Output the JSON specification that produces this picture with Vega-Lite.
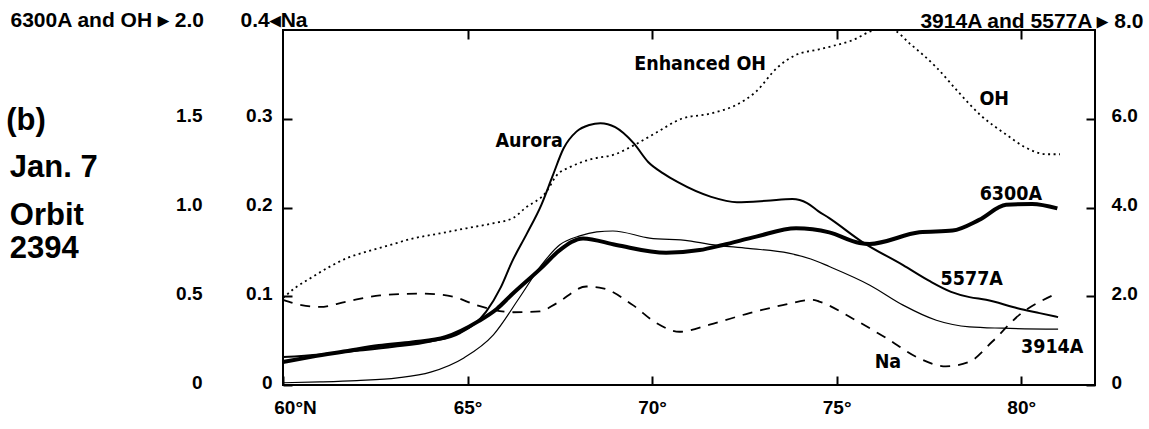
{
  "$schema": "https://vega.github.io/schema/vega-lite/v6.json",
  "width": 812,
  "height": 355,
  "autosize": {"type": "none"},
  "padding": {"left": 283, "top": 30, "right": 54, "bottom": 44},
  "background": "white",
  "config": {
    "view": {"stroke": "black", "strokeWidth": 2},
    "axis": {
      "grid": false,
      "domain": false,
      "labelColor": "black",
      "tickColor": "black",
      "titleColor": "black",
      "labelFont": "Liberation Sans",
      "labelFontWeight": "bold",
      "labelFontSize": 19,
      "titleFont": "Liberation Sans",
      "titleFontWeight": "bold",
      "titleFontSize": 20,
      "tickWidth": 2,
      "tickSize": -9
    }
  },
  "datasets": {
    "oh": [
      {"lat": 60.0, "v": 0.49}, {"lat": 60.35, "v": 0.55}, {"lat": 60.73, "v": 0.60}, {"lat": 61.27, "v": 0.667},
      {"lat": 61.72, "v": 0.714}, {"lat": 62.26, "v": 0.751}, {"lat": 62.9, "v": 0.789}, {"lat": 63.53, "v": 0.826},
      {"lat": 64.25, "v": 0.854}, {"lat": 64.97, "v": 0.883}, {"lat": 65.69, "v": 0.911}, {"lat": 66.23, "v": 0.94},
      {"lat": 66.55, "v": 0.995}, {"lat": 67.14, "v": 1.09}, {"lat": 67.41, "v": 1.18}, {"lat": 67.8, "v": 1.23},
      {"lat": 68.3, "v": 1.27}, {"lat": 69.0, "v": 1.30}, {"lat": 69.5, "v": 1.35}, {"lat": 70.1, "v": 1.42},
      {"lat": 70.8, "v": 1.50}, {"lat": 71.6, "v": 1.53}, {"lat": 72.3, "v": 1.58}, {"lat": 72.8, "v": 1.65},
      {"lat": 73.4, "v": 1.79}, {"lat": 73.9, "v": 1.86}, {"lat": 74.5, "v": 1.89}, {"lat": 75.4, "v": 1.94},
      {"lat": 76.1, "v": 2.0}, {"lat": 76.5, "v": 2.0}, {"lat": 77.0, "v": 1.92}, {"lat": 77.7, "v": 1.79},
      {"lat": 78.3, "v": 1.65}, {"lat": 78.9, "v": 1.52}, {"lat": 79.6, "v": 1.41}, {"lat": 80.1, "v": 1.34},
      {"lat": 80.7, "v": 1.30}, {"lat": 81.05, "v": 1.30}
    ],
    "p6300": [
      {"lat": 60.0, "v": 0.13}, {"lat": 60.8, "v": 0.16}, {"lat": 61.7, "v": 0.19}, {"lat": 62.6, "v": 0.22},
      {"lat": 63.5, "v": 0.24}, {"lat": 64.4, "v": 0.27}, {"lat": 65.3, "v": 0.36}, {"lat": 65.8, "v": 0.43},
      {"lat": 66.2, "v": 0.51}, {"lat": 67.0, "v": 0.66}, {"lat": 67.5, "v": 0.76}, {"lat": 68.13, "v": 0.826},
      {"lat": 69.03, "v": 0.789}, {"lat": 70.38, "v": 0.745}, {"lat": 71.29, "v": 0.76}, {"lat": 71.92, "v": 0.789},
      {"lat": 72.82, "v": 0.836}, {"lat": 73.9, "v": 0.883}, {"lat": 74.8, "v": 0.86}, {"lat": 75.62, "v": 0.80},
      {"lat": 75.89, "v": 0.795}, {"lat": 77.24, "v": 0.86}, {"lat": 78.14, "v": 0.87}, {"lat": 78.86, "v": 0.93},
      {"lat": 79.59, "v": 1.015}, {"lat": 80.3, "v": 1.02}, {"lat": 80.98, "v": 0.995}
    ],
    "p5577": [
      {"lat": 60.0, "v": 0.63}, {"lat": 61.0, "v": 0.69}, {"lat": 62.0, "v": 0.77}, {"lat": 63.0, "v": 0.86},
      {"lat": 64.0, "v": 0.98}, {"lat": 64.8, "v": 1.17}, {"lat": 65.5, "v": 1.65}, {"lat": 65.9, "v": 2.2},
      {"lat": 66.2, "v": 2.77}, {"lat": 66.6, "v": 3.4}, {"lat": 67.0, "v": 4.06}, {"lat": 67.3, "v": 4.7},
      {"lat": 67.6, "v": 5.33}, {"lat": 67.95, "v": 5.71}, {"lat": 68.3, "v": 5.86}, {"lat": 68.6, "v": 5.90},
      {"lat": 69.0, "v": 5.81}, {"lat": 69.5, "v": 5.45}, {"lat": 69.9, "v": 5.02}, {"lat": 70.3, "v": 4.77},
      {"lat": 70.7, "v": 4.57}, {"lat": 71.6, "v": 4.24}, {"lat": 72.3, "v": 4.12}, {"lat": 73.1, "v": 4.15},
      {"lat": 73.8, "v": 4.19}, {"lat": 74.2, "v": 4.1}, {"lat": 74.5, "v": 3.92}, {"lat": 74.8, "v": 3.76},
      {"lat": 75.7, "v": 3.22}, {"lat": 76.8, "v": 2.70}, {"lat": 77.5, "v": 2.35}, {"lat": 78.1, "v": 2.10},
      {"lat": 78.6, "v": 1.98}, {"lat": 79.05, "v": 1.92}, {"lat": 79.9, "v": 1.73}, {"lat": 80.5, "v": 1.62},
      {"lat": 81.0, "v": 1.53}
    ],
    "p3914": [
      {"lat": 60.0, "v": 0.05}, {"lat": 61.0, "v": 0.07}, {"lat": 62.0, "v": 0.10}, {"lat": 63.1, "v": 0.16},
      {"lat": 64.0, "v": 0.29}, {"lat": 64.9, "v": 0.61}, {"lat": 65.7, "v": 1.13}, {"lat": 66.4, "v": 1.96},
      {"lat": 67.0, "v": 2.70}, {"lat": 67.5, "v": 3.16}, {"lat": 68.04, "v": 3.36}, {"lat": 68.5, "v": 3.45},
      {"lat": 68.94, "v": 3.47}, {"lat": 69.93, "v": 3.31}, {"lat": 71.0, "v": 3.25}, {"lat": 71.56, "v": 3.17},
      {"lat": 72.6, "v": 3.08}, {"lat": 73.7, "v": 2.97}, {"lat": 74.3, "v": 2.84}, {"lat": 74.8, "v": 2.67},
      {"lat": 75.9, "v": 2.25}, {"lat": 76.8, "v": 1.80}, {"lat": 77.7, "v": 1.46}, {"lat": 78.6, "v": 1.31},
      {"lat": 79.5, "v": 1.28}, {"lat": 81.0, "v": 1.26}
    ],
    "na": [
      {"lat": 60.0, "v": 0.096}, {"lat": 60.5, "v": 0.09}, {"lat": 61.0, "v": 0.088}, {"lat": 61.72, "v": 0.094},
      {"lat": 62.63, "v": 0.101}, {"lat": 63.8, "v": 0.103}, {"lat": 64.61, "v": 0.0995}, {"lat": 65.24, "v": 0.090},
      {"lat": 66.23, "v": 0.082}, {"lat": 66.96, "v": 0.083}, {"lat": 67.41, "v": 0.092}, {"lat": 68.22, "v": 0.111},
      {"lat": 68.67, "v": 0.109}, {"lat": 69.48, "v": 0.090}, {"lat": 70.11, "v": 0.070}, {"lat": 70.74, "v": 0.060},
      {"lat": 71.56, "v": 0.068}, {"lat": 72.64, "v": 0.081}, {"lat": 73.54, "v": 0.090}, {"lat": 74.35, "v": 0.096},
      {"lat": 74.53, "v": 0.094}, {"lat": 75.43, "v": 0.075}, {"lat": 76.34, "v": 0.053}, {"lat": 77.24, "v": 0.030},
      {"lat": 77.96, "v": 0.021}, {"lat": 78.59, "v": 0.026}, {"lat": 79.22, "v": 0.049}, {"lat": 79.95, "v": 0.079},
      {"lat": 80.85, "v": 0.101}
    ],
    "labels": [
      {"lat": 71.3, "v": 1.775, "t": "Enhanced OH"},
      {"lat": 66.67, "v": 1.341, "t": "Aurora"},
      {"lat": 79.27, "v": 1.577, "t": "OH"},
      {"lat": 79.72, "v": 1.042, "t": "6300A"},
      {"lat": 78.66, "v": 0.563, "t": "5577A"},
      {"lat": 80.84, "v": 0.18, "t": "3914A"},
      {"lat": 76.39, "v": 0.096, "t": "Na"}
    ],
    "notes": [
      {"lat": 52.5, "v": 1.437, "t": "(b)"},
      {"lat": 52.6, "v": 1.172, "t": "Jan. 7"},
      {"lat": 52.6, "v": 0.901, "t": "Orbit"},
      {"lat": 52.6, "v": 0.715, "t": "2394"}
    ]
  },
  "resolve": {"scale": {"y": "independent"}, "axis": {"x": "independent"}},
  "layer": [
    {
      "data": {"name": "oh"},
      "mark": {"type": "line", "color": "black", "strokeWidth": 1.8, "strokeDash": [2, 3.5], "interpolate": "monotone"},
      "encoding": {
        "x": {
          "field": "lat", "type": "quantitative",
          "scale": {"domain": [60, 82], "nice": false, "zero": false},
          "axis": {
            "orient": "bottom", "values": [60, 65, 70, 75, 80],
            "labelExpr": "datum.value == 60 ? '60°N' : datum.value + '°'",
            "labelFlush": false, "labelPadding": 22,
            "labelOffset": {"condition": {"test": "datum.value == 60", "value": 12}, "value": 0},
            "title": null
          }
        },
        "y": {
          "field": "v", "type": "quantitative",
          "scale": {"domain": [0, 2], "nice": false},
          "axis": {
            "orient": "left", "offset": 70, "values": [0, 0.5, 1, 1.5],
            "labelExpr": "datum.value == 0 ? '0' : format(datum.value, '.1f')",
            "ticks": false, "labelPadding": 11, "labelOffset": -3,
            "title": "6300A and OH ▸ 2.0", "titleAngle": 0, "titleAlign": "left", "titleBaseline": "alphabetic",
            "titleX": -203, "titleY": -4, "titleFontSize": 21
          }
        }
      }
    },
    {
      "data": {"name": "p6300"},
      "mark": {"type": "line", "color": "black", "strokeWidth": 4, "interpolate": "monotone"},
      "encoding": {
        "x": {
          "field": "lat", "type": "quantitative",
          "scale": {"domain": [60, 82], "nice": false, "zero": false},
          "axis": {"orient": "top", "values": [65, 70, 75, 80], "labels": false, "title": null}
        },
        "y": {"field": "v", "type": "quantitative", "scale": {"domain": [0, 2], "nice": false}, "axis": null}
      }
    },
    {
      "data": {"name": "na"},
      "mark": {"type": "line", "color": "black", "strokeWidth": 1.8, "strokeDash": [10, 8], "interpolate": "monotone"},
      "encoding": {
        "x": {"field": "lat", "type": "quantitative", "scale": {"domain": [60, 82], "nice": false, "zero": false}, "axis": null},
        "y": {
          "field": "v", "type": "quantitative",
          "scale": {"domain": [0, 0.4], "nice": false},
          "axis": {
            "orient": "left", "offset": 0, "values": [0, 0.1, 0.2, 0.3],
            "labelExpr": "datum.value == 0 ? '0' : format(datum.value, '.1f')",
            "labelPadding": 20, "labelOffset": -3,
            "title": "0.4◂Na", "titleAngle": 0, "titleAlign": "left", "titleBaseline": "alphabetic",
            "titleX": -43, "titleY": -4, "titleFontSize": 21
          }
        }
      }
    },
    {
      "data": {"name": "p5577"},
      "mark": {"type": "line", "color": "black", "strokeWidth": 2, "interpolate": "monotone"},
      "encoding": {
        "x": {"field": "lat", "type": "quantitative", "scale": {"domain": [60, 82], "nice": false, "zero": false}, "axis": null},
        "y": {
          "field": "v", "type": "quantitative",
          "scale": {"domain": [0, 8], "nice": false},
          "axis": {
            "orient": "right", "values": [0, 2, 4, 6],
            "labelExpr": "datum.value == 0 ? '0' : format(datum.value, '.1f')",
            "labelPadding": 25, "labelOffset": -3,
            "title": "3914A and 5577A ▸ 8.0", "titleAngle": 0, "titleAlign": "right", "titleBaseline": "alphabetic",
            "titleX": 48, "titleY": -3, "titleFontSize": 21
          }
        }
      }
    },
    {
      "data": {"name": "p3914"},
      "mark": {"type": "line", "color": "black", "strokeWidth": 1.2, "interpolate": "monotone"},
      "encoding": {
        "x": {"field": "lat", "type": "quantitative", "scale": {"domain": [60, 82], "nice": false, "zero": false}, "axis": null},
        "y": {"field": "v", "type": "quantitative", "scale": {"domain": [0, 8], "nice": false}, "axis": null}
      }
    },
    {
      "data": {"name": "labels"},
      "mark": {"type": "text", "color": "black", "font": "DejaVu Sans Condensed, DejaVu Sans, sans-serif", "fontWeight": "bold", "fontSize": 19.5, "align": "center", "baseline": "alphabetic"},
      "encoding": {
        "x": {"field": "lat", "type": "quantitative", "scale": {"domain": [60, 82], "nice": false, "zero": false}, "axis": null},
        "y": {"field": "v", "type": "quantitative", "scale": {"domain": [0, 2], "nice": false}, "axis": null},
        "text": {"field": "t"}
      }
    },
    {
      "data": {"name": "notes"},
      "mark": {"type": "text", "color": "black", "font": "Liberation Sans", "fontWeight": "bold", "fontSize": 31, "align": "left", "baseline": "alphabetic"},
      "encoding": {
        "x": {"field": "lat", "type": "quantitative", "scale": {"domain": [60, 82], "nice": false, "zero": false}, "axis": null},
        "y": {"field": "v", "type": "quantitative", "scale": {"domain": [0, 2], "nice": false}, "axis": null},
        "text": {"field": "t"}
      }
    }
  ]
}
